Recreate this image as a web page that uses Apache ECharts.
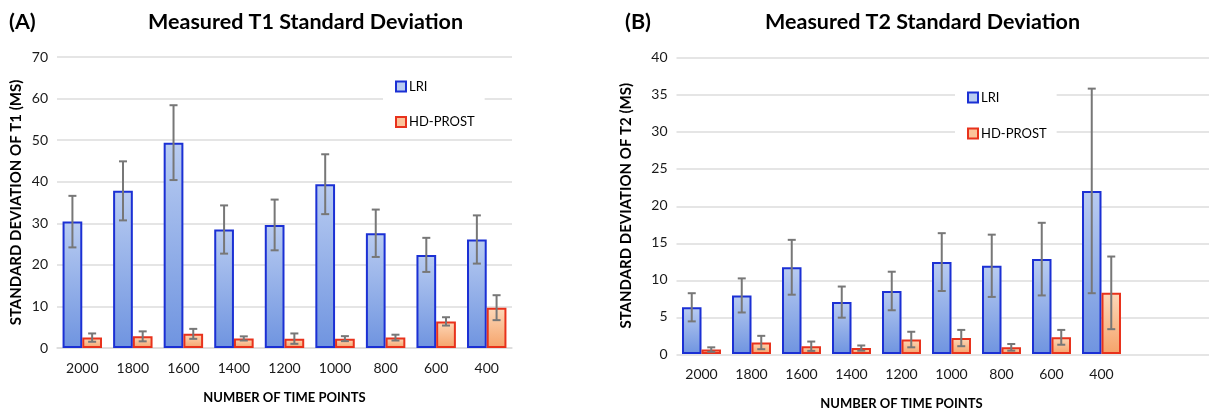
<!DOCTYPE html>
<html>
<head>
<meta charset="utf-8">
<script src="https://cdn.jsdelivr.net/npm/echarts@6/dist/echarts.min.js"></script>
<style>
html,body{margin:0;padding:0;background:#fff;}
#chart{width:1209px;height:415px;}
</style>
</head>
<body>
<div id="chart"></div>
<script>
// ---- data ----
const categories = ['2000','1800','1600','1400','1200','1000','800','600','400'];
const seriesNames = ['LRI','HD-PROST'];
const t1LRI    = [30.4, 37.8, 49.4, 28.5, 29.6, 39.4, 27.6, 22.4, 26.1];
const t1LRIErr = [6.2, 7.1, 9.0, 5.8, 6.1, 7.2, 5.7, 4.1, 5.8];
const t1HD     = [2.5, 2.8, 3.4, 2.3, 2.25, 2.25, 2.5, 6.4, 9.7];
const t1HDErr  = [1.0, 1.2, 1.2, 0.5, 1.25, 0.6, 0.7, 1.0, 3.0];
const t2LRI    = [6.3, 7.9, 11.7, 7.0, 8.5, 12.4, 11.9, 12.8, 22.0];
const t2LRIErr = [1.9, 2.3, 3.7, 2.1, 2.6, 3.9, 4.2, 4.9, 13.8];
const t2HD     = [0.6, 1.55, 1.05, 0.8, 1.95, 2.15, 0.9, 2.25, 8.25];
const t2HDErr  = [0.3, 0.9, 0.63, 0.35, 1.05, 1.1, 0.45, 1.0, 4.9];
const titleA = 'Measured T1 Standard Deviation';
const titleB = 'Measured T2 Standard Deviation';
const yNameA = 'STANDARD DEVIATION OF T1 (MS)';
const yNameB = 'STANDARD DEVIATION OF T2 (MS)';
const xName  = 'NUMBER OF TIME POINTS';

// ---- styles ----
const FONT = 'Lato, "Open Sans", sans-serif';
const CAT_GAP = 0.22;
const lriStyle = {
  color: {type:'linear', x:0, y:0, x2:0, y2:1, colorStops:[{offset:0,color:'#b9ccf1'},{offset:1,color:'#6f94e0'}]},
  borderColor:'#1b30d4', borderWidth:2
};
const hdStyle = {
  color: {type:'linear', x:0, y:0, x2:0, y2:1, colorStops:[{offset:0,color:'#fdd8b9'},{offset:1,color:'#f5a36a'}]},
  borderColor:'#e8321c', borderWidth:2
};
const legendLRI = {color:'#b9ccf1', borderColor:'#1b30d4', borderWidth:2};
const legendHD = {color:'#fbc39a', borderColor:'#e8321c', borderWidth:2};

function errSeries(xi, yi, vals, errs, side) {
  return {
    type:'custom', xAxisIndex:xi, yAxisIndex:yi, z:5, silent:true,
    data: vals.map((v,i)=>[i, v, errs[i]]),
    renderItem: function(params, api){
      const x = api.value(0), v = api.value(1), e = api.value(2);
      const hi = api.coord([x, v+e]);
      const lo = api.coord([x, v-e]);
      const band = api.size([1,0])[0];
      const cx = hi[0] + side * band * (1-CAT_GAP) / 4;
      const cap = 4;
      const st = {stroke:'#777777', lineWidth:2};
      return {type:'group', children:[
        {type:'line', shape:{x1:cx, y1:hi[1], x2:cx, y2:lo[1]}, style:st},
        {type:'line', shape:{x1:cx-cap, y1:hi[1], x2:cx+cap, y2:hi[1]}, style:st},
        {type:'line', shape:{x1:cx-cap, y1:lo[1], x2:cx+cap, y2:lo[1]}, style:st}
      ]};
    }
  };
}

const gridA = {left:57, top:57, width:455, height:291};
const gridB = {left:676.5, top:57.5, width:450, height:297.5};
const gridBbg = {left:676.5, top:57.5, width:532.5, height:297.5};

const axisLabel = {color:'#1a1a1a', fontFamily:FONT, fontSize:14};
const splitLine = {show:true, lineStyle:{color:'#dcdcdc', width:1.5}};
const titleStyle = {fontFamily:FONT, fontSize:21.5, fontWeight:'bold', color:'#000'};
const nameStyleX = {fontFamily:FONT, fontSize:13, fontWeight:'bold', color:'#000'};
const nameStyleY = {fontFamily:FONT, fontSize:15, fontWeight:'bold', color:'#000'};
const legendText = {fontFamily:FONT, fontSize:13, color:'#000', padding:[0,0,0,-2]};

const option = {
  backgroundColor:'#ffffff',
  animation:false,
  title:[
    {text:'(A)', left:9, top:11, padding:0, textStyle:titleStyle},
    {text:titleA, left:148, top:11, padding:0, textStyle:titleStyle},
    {text:'(B)', left:625, top:11, padding:0, textStyle:titleStyle},
    {text:titleB, left:765, top:11, padding:0, textStyle:titleStyle}
  ],
  legend:[
    {data:seriesNames.map((n,i)=>({name:n, itemStyle: i===0?legendLRI:legendHD})),
     orient:'vertical', left:383, top:72, padding:[8,10,8,12], itemGap:22.5,
     itemWidth:10, itemHeight:10, icon:'rect', backgroundColor:'#fff',
     textStyle:legendText, selectedMode:false},
    {data:seriesNames.map((n,i)=>({name:n, itemStyle: i===0?legendLRI:legendHD})),
     orient:'vertical', left:955, top:83, padding:[8,10,8,12], itemGap:23,
     itemWidth:10, itemHeight:10, icon:'rect', backgroundColor:'#fff',
     textStyle:legendText, selectedMode:false}
  ],
  grid:[gridA, gridB, gridBbg],
  xAxis:[
    {type:'category', gridIndex:0, data:categories,
     axisLine:{show:true, lineStyle:{color:'#dcdcdc', width:1.5}}, axisTick:{show:false},
     axisLabel:Object.assign({margin:13}, axisLabel),
     name:xName, nameLocation:'middle', nameGap:43, nameTextStyle:nameStyleX},
    {type:'category', gridIndex:1, data:categories,
     axisLine:{show:false}, axisTick:{show:false},
     axisLabel:Object.assign({margin:13}, axisLabel),
     name:xName, nameLocation:'middle', nameGap:43, nameTextStyle:nameStyleX},
    {type:'value', gridIndex:2, show:false, min:0, max:1}
  ],
  yAxis:[
    {type:'value', gridIndex:0, min:0, max:70, interval:10,
     axisLine:{show:false}, axisTick:{show:false}, splitLine:splitLine,
     axisLabel:Object.assign({margin:9}, axisLabel),
     name:yNameA, nameLocation:'middle', nameGap:33, nameTextStyle:nameStyleY},
    {type:'value', gridIndex:1, min:0, max:40, interval:5,
     axisLine:{show:false}, axisTick:{show:false}, splitLine:{show:false},
     axisLabel:Object.assign({margin:9}, axisLabel),
     name:yNameB, nameLocation:'middle', nameGap:43, nameTextStyle:nameStyleY},
    {type:'value', gridIndex:2, min:0, max:40, interval:5,
     axisLine:{show:false}, axisTick:{show:false}, axisLabel:{show:false}, splitLine:splitLine}
  ],
  series:[
    {name:'LRI', type:'bar', xAxisIndex:0, yAxisIndex:0, data:t1LRI, itemStyle:lriStyle, barGap:'0%', barCategoryGap:(CAT_GAP*100)+'%', z:2},
    {name:'HD-PROST', type:'bar', xAxisIndex:0, yAxisIndex:0, data:t1HD, itemStyle:hdStyle, barGap:'0%', barCategoryGap:(CAT_GAP*100)+'%', z:2},
    {name:'LRI', type:'bar', xAxisIndex:1, yAxisIndex:1, data:t2LRI, itemStyle:lriStyle, barGap:'0%', barCategoryGap:(CAT_GAP*100)+'%', z:2},
    {name:'HD-PROST', type:'bar', xAxisIndex:1, yAxisIndex:1, data:t2HD, itemStyle:hdStyle, barGap:'0%', barCategoryGap:(CAT_GAP*100)+'%', z:2},
    errSeries(0,0,t1LRI,t1LRIErr,-1),
    errSeries(0,0,t1HD,t1HDErr,1),
    errSeries(1,1,t2LRI,t2LRIErr,-1),
    errSeries(1,1,t2HD,t2HDErr,1)
  ]
};
const chart = echarts.init(document.getElementById('chart'), null, {renderer:'canvas'});
chart.setOption(option);
</script>
</body>
</html>
